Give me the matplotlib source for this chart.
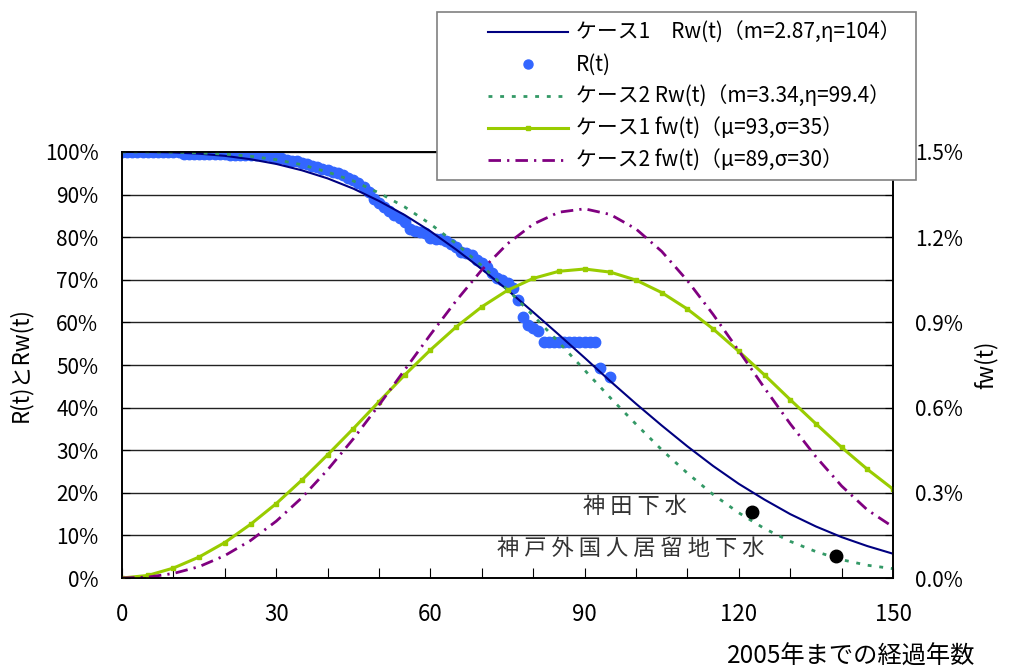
import matplotlib
matplotlib.use("Agg")
import matplotlib.pyplot as plt
from matplotlib.patches import Rectangle
from matplotlib.lines import Line2D
from matplotlib.ticker import FuncFormatter

plt.rcParams['font.family'] = ['Noto Sans CJK JP', 'DejaVu Sans']

# 実測の残存率 R(t) [%]
r_years = list(range(0, 94)) + [95]
r_vals = ([100.0] * 12 + [99.6] * 9 + [99.4] * 5 + [99.2] * 3 +
          [99.0, 98.7, 98.5, 98.2, 98.0, 97.8, 97.5, 97.2, 96.8, 96.4, 96.0,
           95.7, 95.3, 95.0, 94.5, 94.0, 93.4, 92.7, 91.9, 90.5, 89.0,
           88.0, 87.2, 86.2, 85.2, 84.5, 83.6, 82.0, 81.5, 81.3, 81.0,
           79.8, 79.6, 79.5, 79.0, 78.3, 77.8, 76.6, 76.2, 75.8, 74.6,
           73.9, 73.0, 71.6, 70.5, 70.0, 69.2, 68.0, 65.3, 61.2, 59.4,
           58.6, 58.0] +
          [55.5] * 11 + [49.3, 47.2])

# ワイブル曲線（5年毎）
t_grid = [0, 5, 10, 15, 20, 25, 30, 35, 40, 45, 50, 55, 60, 65, 70, 75,
          80, 85, 90, 95, 100, 105, 110, 115, 120, 125, 130, 135, 140, 145, 150]
rw1 = [100, 100, 99.9, 99.6, 99.1, 98.3, 97.2, 95.7, 93.8, 91.4, 88.5, 85.2,
       81.4, 77.1, 72.5, 67.6, 62.4, 57.1, 51.7, 46.2, 40.9, 35.8, 30.9, 26.3,
       22.1, 18.4, 15.0, 12.1, 9.6, 7.5, 5.7]
rw2 = [100, 100, 99.95, 99.8, 99.5, 99.0, 98.2, 97.0, 95.3, 93.2, 90.4, 87.1,
       83.1, 78.5, 73.3, 67.7, 61.6, 55.3, 48.8, 42.3, 36.1, 30.1, 24.6, 19.6,
       15.3, 11.6, 8.6, 6.2, 4.3, 3.0, 2.2]
fw1 = [0.0, 0.009, 0.035, 0.074, 0.125, 0.189, 0.262, 0.345, 0.434, 0.526,
       0.621, 0.715, 0.803, 0.884, 0.955, 1.013, 1.055, 1.080, 1.088, 1.077,
       1.049, 1.005, 0.947, 0.877, 0.798, 0.715, 0.628, 0.543, 0.460, 0.383,
       0.313]
fw2 = [0.0, 0.003, 0.016, 0.040, 0.079, 0.132, 0.200, 0.283, 0.381, 0.490,
       0.609, 0.733, 0.857, 0.976, 1.085, 1.177, 1.246, 1.288, 1.300, 1.280,
       1.229, 1.150, 1.047, 0.928, 0.800, 0.669, 0.543, 0.427, 0.324, 0.240,
       0.180]

# 参考点
site_names = ["神 田 下 水", "神 戸 外 国 人 居 留 地 下 水"]
site_t = [122.5, 138.9]
site_r = [15.4, 5.2]

labels = ["ケース1　Rw(t)（m=2.87,η=104）",
          "R(t)",
          "ケース2 Rw(t)（m=3.34,η=99.4）",
          "ケース1 fw(t)（μ=93,σ=35）",
          "ケース2 fw(t)（μ=89,σ=30）"]

c_rw1 = "#000080"
c_r = "#3366ff"
c_rw2 = "#339966"
c_fw1 = "#99cc00"
c_fw2 = "#800080"
ls_rw2 = (0, (1.4, 2.8))
ls_fw2 = (0, (4.5, 2.2, 0.8, 2.2))

fig = plt.figure(figsize=(10.11, 6.69), dpi=100)
ax = fig.add_axes([0.1207, 0.136, 0.7626, 0.6368])
ax2 = ax.twinx()

ax.plot(t_grid, rw1, color=c_rw1, lw=1.5, zorder=3)
ax.plot(r_years, r_vals, "o", color=c_r, ms=7.5, mec=c_r, zorder=2)
ax.plot(t_grid, rw2, color=c_rw2, lw=2.0, ls=ls_rw2, zorder=3)
ax.plot(site_t, site_r, "o", color="black", ms=9, zorder=4)

ax2.plot(t_grid, fw1, color=c_fw1, lw=2.2, marker="s", ms=3)
ax2.plot(t_grid, fw2, color=c_fw2, lw=2.0, ls=ls_fw2)

ax.text(89.7, 16.7, site_names[0], fontsize=16, color="#333333", va="center")
ax.text(73.0, 7.0, site_names[1], fontsize=16, color="#333333", va="center")

ax.set_xlim(0, 150)
ax.set_ylim(0, 100)
ax2.set_ylim(0, 1.5)

ax.set_yticks(range(0, 101, 10))
ax.yaxis.set_major_formatter(FuncFormatter(lambda v, p: f"{v:.0f}%"))
ax.grid(axis="y", color="#222222", lw=1)
ax.set_xticks(range(0, 151, 10))
ax.set_xticklabels([str(v) if v % 30 == 0 else "" for v in range(0, 151, 10)])
ax2.set_yticks([i * 0.15 for i in range(11)])
ax2.yaxis.set_major_formatter(
    FuncFormatter(lambda v, p: f"{v:.1f}%" if round(v / 0.3, 3) % 1 == 0 else ""))

ax.tick_params(axis="x", direction="in", length=7, pad=18, labelsize=16)
ax.tick_params(axis="y", direction="in", length=6, pad=17, labelsize=15)
ax2.tick_params(axis="y", direction="in", length=6, pad=16, labelsize=15)
for a in (ax, ax2):
    for s in a.spines.values():
        s.set_color("black")
        s.set_linewidth(1.2)

ax.set_ylabel("R(t)とRw(t)", fontsize=16, labelpad=9)
ax2.set_ylabel("fw(t)", fontsize=16, labelpad=8)
fig.text(975 / 1011, 1 - 657 / 669, "2005年までの経過年数", fontsize=17.5,
         ha="right", va="center")

# 凡例
box = Rectangle((437 / 1011, 1 - 180 / 669), 479 / 1011, 168 / 669,
                transform=fig.transFigure, facecolor="white",
                edgecolor="#808080", lw=1.2, zorder=4)
fig.add_artist(box)
handles = [
    Line2D([], [], color=c_rw1, lw=1.5),
    Line2D([], [], ls="none", marker="o", color=c_r, ms=6.5),
    Line2D([], [], color=c_rw2, lw=2.0, ls=ls_rw2),
    Line2D([], [], color=c_fw1, lw=2.2, marker="s", ms=3),
    Line2D([], [], color=c_fw2, lw=2.0, ls=ls_fw2),
]
leg = fig.legend(handles, labels, loc="upper left",
                 bbox_to_anchor=(488 / 1011, 1 - 22 / 669), frameon=False,
                 fontsize=15, handlelength=3.85, handletextpad=0.35,
                 labelspacing=0.48, borderpad=0, borderaxespad=0, numpoints=1)
leg.set_zorder(5)

fig.savefig("out.png", dpi=100)
